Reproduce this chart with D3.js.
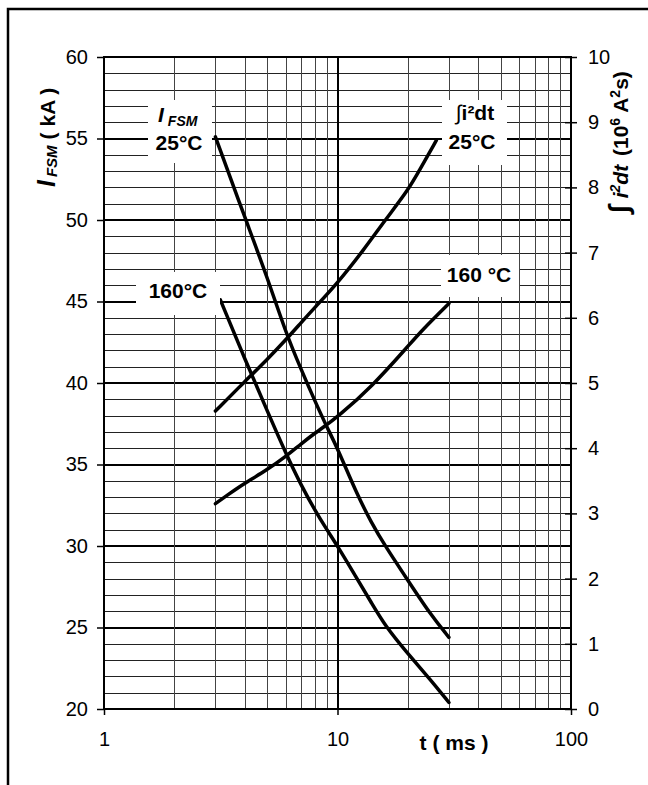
<!doctype html>
<html lang='en'>
<head>
    <meta charset='UTF-8'>
    <title>IFSM / i2dt vs t</title>
    <style>
        body{ margin: 0; background: #fff; }
        svg{ display: block; font-family: 'Liberation Sans', Arial, sans-serif; }
        .axis text{ font-size: 20px; fill: #000; }
        .axis line{ stroke: #000; stroke-width: 1.5px; }
        .axis path{ display: none; }
        .curve{ fill: none; stroke: #000; stroke-width: 3.5px; stroke-linejoin: round; stroke-linecap: round; }
        .lbl{ font-weight: bold; font-size: 21px; }
    </style>
</head>
<body>
<script src='https://cdnjs.cloudflare.com/ajax/libs/d3/7.8.5/d3.min.js'></script>
<script>
  // t in ms, IFSM in kA, i2dt in 10^6 A2s (right axis)
  const tIfsm25 = [3, 4, 5, 6, 7, 8, 9, 10, 12, 14, 16, 20, 25, 30]
  const ifsm25 = [55.1, 50.2, 46.5, 43.1, 40.8, 38.9, 37.3, 36.0, 33.3, 31.4, 30.0, 27.9, 25.8, 24.4]

  const tIfsm160 = [3.15, 4, 5, 6, 7, 8, 9, 10, 12, 14, 16, 20, 25, 30]
  const ifsm160 = [45.1, 41.5, 38.3, 35.7, 33.7, 32.2, 31.0, 30.0, 28.1, 26.5, 25.1, 23.4, 21.8, 20.4]

  const tI2t25 = [3, 4, 5, 6, 7, 8, 10, 13, 16, 20, 22.5, 26.5]
  const i2t25 = [4.57, 5.02, 5.36, 5.66, 5.93, 6.16, 6.53, 7.05, 7.5, 7.95, 8.27, 8.72]

  const tI2t160 = [3, 3.7, 4, 5, 6, 7, 8, 9, 10, 14, 20, 23, 30]
  const i2t160 = [3.15, 3.38, 3.46, 3.67, 3.87, 4.07, 4.23, 4.36, 4.48, 4.94, 5.56, 5.81, 6.22]

  const leftTicks = [20, 25, 30, 35, 40, 45, 50, 55, 60]
  const rightTicks = [0, 1, 2, 3, 4, 5, 6, 7, 8, 9, 10]
  const xTicks = [1, 10, 100]

  const x0 = 104, x1 = 571, y0 = 57, y1 = 709

  const xScale = d3.scaleLog().domain([1, 100]).range([x0, x1])
  const yLeft = d3.scaleLinear().domain([20, 60]).range([y1, y0])
  const yRight = d3.scaleLinear().domain([0, 10]).range([y1, y0])

  const svg = d3.select('body')
    .append('svg')
    .attr('width', 648)
    .attr('height', 785)

  // outer frame (only top and left edges fall inside the picture)
  svg.append('rect')
    .attr('x', 8).attr('y', 9)
    .attr('width', 800).attr('height', 900)
    .attr('fill', 'none').attr('stroke', '#000').attr('stroke-width', 2.5)

  // horizontal grid, every 1 kA, heavier every 5 kA
  const grid = svg.append('g').attr('shape-rendering', 'crispEdges')
  grid.selectAll('.hg')
    .data(d3.range(21, 60))
    .join('line')
    .attr('x1', x0).attr('x2', x1)
    .attr('y1', d => d % 5 ? Math.round(yLeft(d)) + 0.5 : Math.round(yLeft(d)))
    .attr('y2', d => d % 5 ? Math.round(yLeft(d)) + 0.5 : Math.round(yLeft(d)))
    .attr('stroke', d => d % 5 ? '#222' : '#000')
    .attr('stroke-width', d => d % 5 ? 1 : 2)

  // vertical log grid
  const vMinor = [2, 3, 4, 5, 6, 7, 8, 9, 20, 30, 40, 50, 60, 70, 80, 90]
  grid.selectAll('.vg')
    .data(vMinor)
    .join('line')
    .attr('x1', d => Math.round(xScale(d)) + 0.5)
    .attr('x2', d => Math.round(xScale(d)) + 0.5)
    .attr('y1', y0).attr('y2', y1)
    .attr('stroke', '#444').attr('stroke-width', 1)
  grid.append('line')
    .attr('x1', Math.round(xScale(10))).attr('x2', Math.round(xScale(10)))
    .attr('y1', y0).attr('y2', y1)
    .attr('stroke', '#000').attr('stroke-width', 2)

  // curves
  const lineL = d3.line()
    .x(d => xScale(d[0]))
    .y(d => yLeft(d[1]))
    .curve(d3.curveBasis)
  const lineR = d3.line()
    .x(d => xScale(d[0]))
    .y(d => yRight(d[1]))
    .curve(d3.curveBasis)

  svg.append('path').attr('class', 'curve').attr('d', lineL(d3.zip(tIfsm25, ifsm25)))
  svg.append('path').attr('class', 'curve').attr('d', lineL(d3.zip(tIfsm160, ifsm160)))
  svg.append('path').attr('class', 'curve').attr('d', lineR(d3.zip(tI2t25, i2t25)))
  svg.append('path').attr('class', 'curve').attr('d', lineR(d3.zip(tI2t160, i2t160)))

  // white boxes behind curve labels
  const boxes = [
    [148, 100, 64, 63],
    [136, 272, 84, 43],
    [442, 100, 65, 65],
    [441, 255, 78, 42]
  ]
  svg.selectAll('.box')
    .data(boxes)
    .join('rect')
    .attr('x', d => d[0]).attr('y', d => d[1])
    .attr('width', d => d[2]).attr('height', d => d[3])
    .attr('fill', '#fff')

  // plot border
  svg.append('rect')
    .attr('x', x0).attr('y', y0)
    .attr('width', x1 - x0).attr('height', y1 - y0)
    .attr('fill', 'none').attr('stroke', '#000').attr('stroke-width', 2)

  // axes
  svg.append('g')
    .attr('class', 'axis')
    .attr('transform', `translate(${x0}, 0)`)
    .call(d3.axisLeft(yLeft).tickValues(leftTicks).tickSize(7).tickPadding(9))

  const rAxis = svg.append('g')
    .attr('class', 'axis')
    .attr('transform', `translate(${x1}, 0)`)
    .call(d3.axisRight(yRight).tickValues(rightTicks).tickSize(6).tickPadding(11))
  rAxis.selectAll('.tick line').attr('x1', -6)

  svg.append('g')
    .attr('class', 'axis')
    .attr('transform', `translate(0, ${y1})`)
    .call(d3.axisBottom(xScale).tickValues(xTicks).tickFormat(d3.format('d')).tickSize(6).tickPadding(17))

  // curve labels
  const l1 = svg.append('text').attr('class', 'lbl').attr('x', 158).attr('y', 122)
  l1.append('tspan').attr('font-style', 'italic').text('I')
  l1.append('tspan').attr('font-style', 'italic').attr('font-size', 14).attr('dx', 4).attr('dy', 4).text('FSM')
  svg.append('text').attr('class', 'lbl').attr('x', 179).attr('y', 150).attr('text-anchor', 'middle').text('25°C')

  svg.append('text').attr('class', 'lbl').attr('x', 178).attr('y', 298).attr('text-anchor', 'middle').text('160°C')

  const l3 = svg.append('text').attr('class', 'lbl').attr('x', 475).attr('y', 120).attr('text-anchor', 'middle')
  l3.append('tspan').attr('font-weight', 'normal').text('∫')
  l3.append('tspan').text('i²dt')
  svg.append('text').attr('class', 'lbl').attr('x', 472).attr('y', 149).attr('text-anchor', 'middle').text('25°C')

  svg.append('text').attr('class', 'lbl').attr('x', 479).attr('y', 282).attr('text-anchor', 'middle').text('160 °C')

  // axis titles
  const tl = svg.append('text').attr('class', 'lbl')
    .attr('font-size', 23)
    .attr('transform', 'translate(55, 187) rotate(-90)')
  tl.append('tspan').attr('font-style', 'italic').attr('font-size', 25).text('I')
  tl.append('tspan').attr('font-style', 'italic').attr('font-size', 15).attr('dx', 3).attr('dy', 2).text('FSM')
  tl.append('tspan').attr('dy', -2).attr('dx', 6).text('( kA )')

  const tr = svg.append('text').attr('class', 'lbl')
    .attr('font-size', 23)
    .attr('transform', 'translate(628, 213) rotate(-90)')
  tr.append('tspan').attr('font-size', 28).text('∫')
  tr.append('tspan').attr('font-style', 'italic').attr('dx', 7).text('i')
  tr.append('tspan').attr('font-style', 'italic').attr('font-size', 14).attr('dy', -8).text('2')
  tr.append('tspan').attr('font-style', 'italic').attr('dy', 8).text('dt')
  tr.append('tspan').attr('dx', 3).text(' (10')
  tr.append('tspan').attr('font-size', 14).attr('dy', -8).text('6')
  tr.append('tspan').attr('dy', 8).text(' A')
  tr.append('tspan').attr('font-size', 14).attr('dy', -8).text('2')
  tr.append('tspan').attr('dy', 8).text('s)')

  svg.append('text').attr('class', 'lbl')
    .attr('font-size', 20)
    .attr('x', 454).attr('y', 750)
    .attr('text-anchor', 'middle')
    .text('t ( ms )')
</script>
</body>
</html>
